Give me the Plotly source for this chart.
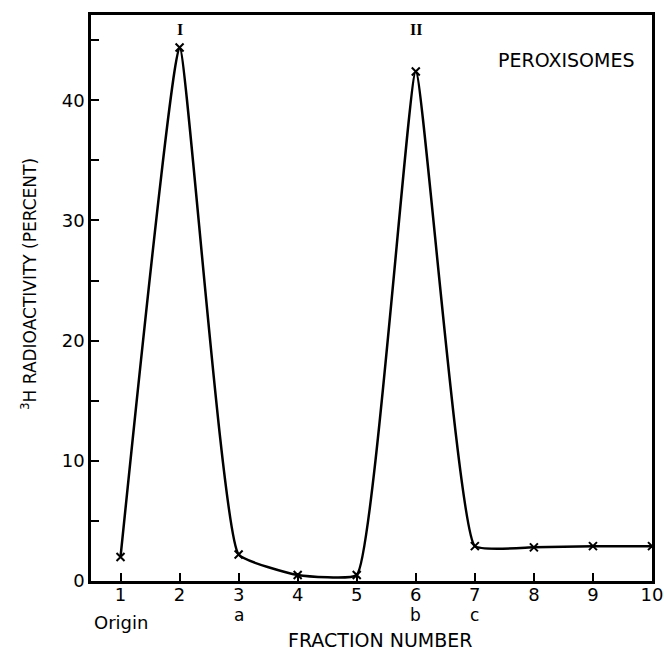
import plotly.graph_objects as go

fractions = [1, 2, 3, 4, 5, 6, 7, 8, 9, 10]
radioactivity = [2.0, 44.4, 2.2, 0.5, 0.5, 42.4, 2.9, 2.8, 2.9, 2.9]
x_ticks = [1, 2, 3, 4, 5, 6, 7, 8, 9, 10]
y_ticks = [0, 10, 20, 30, 40]
sub_labels = [(1, "Origin"), (3, "a"), (6, "b"), (7, "c")]
peak_labels = [(2, "I"), (6, "II")]
peak_label_y = 45.9

FONT = "DejaVu Sans, Liberation Sans, sans-serif"

fig = go.Figure()
fig.add_trace(go.Scatter(
    x=fractions, y=radioactivity, mode="lines+markers",
    line=dict(color="black", width=2.5, shape="spline", smoothing=0.35),
    marker=dict(symbol="x-thin-open", size=8, color="black",
                line=dict(color="black", width=2)),
    showlegend=False,
))

plot_l, plot_r, plot_t, plot_b = 91, 652, 15, 581
W = plot_r - plot_l
H = plot_b - plot_t

annotations = []
for xv, txt in sub_labels:
    if txt == "Origin":
        shift, size = -41, 18
    else:
        shift, size = -34, 17
    annotations.append(dict(x=xv, y=0, xref="x", yref="y", text=txt,
                            showarrow=False, yshift=shift, xanchor="center",
                            yanchor="middle",
                            font=dict(family=FONT, size=size, color="black")))
for xv, txt in peak_labels:
    annotations.append(dict(x=xv, y=peak_label_y, xref="x", yref="y",
                            text="<b>" + txt + "</b>", showarrow=False,
                            yanchor="middle",
                            font=dict(family="Liberation Serif, serif", size=16, color="black")))
annotations.append(dict(x=0.973, y=0.92, xref="paper", yref="paper", text="PEROXISOMES",
                        showarrow=False, xanchor="right", yanchor="middle",
                        font=dict(family=FONT, size=19, color="black")))
annotations.append(dict(x=(380 - plot_l) / W, y=(plot_b - 640) / H,
                        xref="paper", yref="paper", text="FRACTION NUMBER",
                        showarrow=False, xanchor="center", yanchor="middle",
                        font=dict(family=FONT, size=19, color="black")))
annotations.append(dict(x=(29 - plot_l) / W, y=(plot_b - 284) / H,
                        xref="paper", yref="paper",
                        text="<sup>3</sup>H RADIOACTIVITY (PERCENT)",
                        showarrow=False, textangle=-90, xanchor="center", yanchor="middle",
                        font=dict(family=FONT, size=17, color="black")))

fig.update_layout(
    width=664, height=650,
    margin=dict(l=plot_l, r=664 - plot_r, t=plot_t, b=650 - plot_b, autoexpand=False),
    paper_bgcolor="white", plot_bgcolor="white",
    font=dict(family=FONT, size=17, color="black"),
    annotations=annotations,
    xaxis=dict(
        range=[0.5, 10], tickvals=x_ticks, ticks="inside", ticklen=8, tickwidth=2,
        tickcolor="black", showline=True, linecolor="black", linewidth=2.5,
        mirror=True, showgrid=False, zeroline=False, automargin=False,
        ticklabelstandoff=-4,
        tickfont=dict(family=FONT, size=18),
    ),
    yaxis=dict(
        range=[0, 47.1], tickvals=y_ticks, ticks="inside", ticklen=8, tickwidth=2,
        tickcolor="black", showline=True, linecolor="black", linewidth=2.5,
        mirror=True, showgrid=False, zeroline=False, automargin=False,
        minor=dict(dtick=5, ticks="inside", ticklen=8, tickwidth=1.5,
                   tickcolor="black", showgrid=False),
        tickfont=dict(family=FONT, size=18),
    ),
)

fig.write_html("out.html", config={"displayModeBar": False},
               post_script="document.body.style.margin='0px';")
